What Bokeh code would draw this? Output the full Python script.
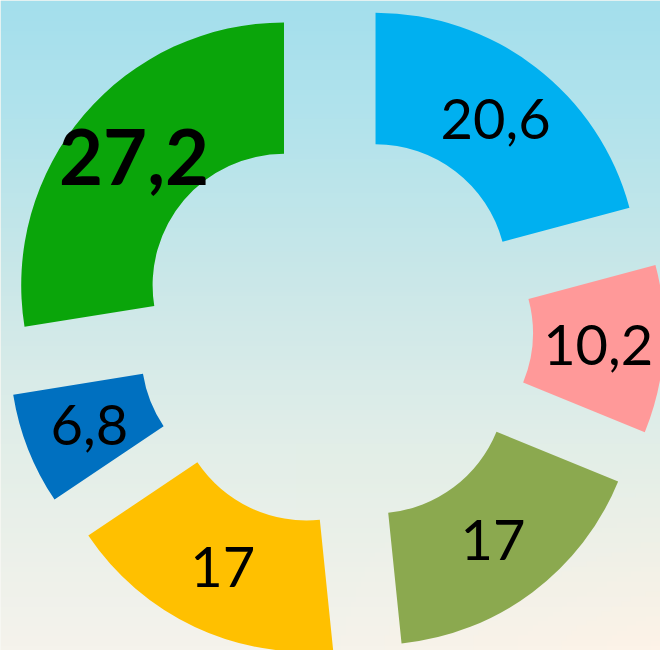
import numpy as np
from bokeh.plotting import figure
from bokeh.models import ColumnDataSource, Range1d
from bokeh.core.properties import value
from bokeh.embed import file_html
from bokeh.resources import INLINE

# ---- data ----
categories = ["A", "B", "C", "D", "E", "F"]
values = [20.6, 10.2, 17, 17, 6.8, 27.2]
labels = ["20,6", "10,2", "17", "17", "6,8", "27,2"]
colors = ["#00B0F0", "#FF9999", "#8BA94F", "#FFC000", "#0070C0", "#0AA50A"]
bold = [False, False, False, False, False, True]

# ---- geometry (style) ----
CX, CY = 338.4, -332.1
R_IN, R_OUT = 133, 266
EXPLODE = 67.6

total = sum(values)
cum = np.concatenate([[0], np.cumsum(values)]) / total * 2 * np.pi  # clockwise from top
phi0, phi1 = cum[:-1], cum[1:]
mid = (phi0 + phi1) / 2
cx = CX + EXPLODE * np.sin(mid)
cy = CY + EXPLODE * np.cos(mid)
start = np.pi / 2 - phi1
end = np.pi / 2 - phi0
rm = (R_IN + R_OUT) / 2
lx = cx + rm * np.sin(mid)
ly = cy + rm * np.cos(mid)

src = ColumnDataSource(dict(cat=categories, cx=cx, cy=cy, start=start, end=end,
                            color=colors, lx=lx, ly=ly, label=labels))

p = figure(width=660, height=650, x_range=Range1d(0, 668), y_range=Range1d(-658, 0),
           output_backend="svg", toolbar_location=None, min_border=0)
p.axis.visible = False
p.grid.visible = False
p.outline_line_color = None
p.background_fill_color = "#f4f3ec"
p.border_fill_color = "#f4f3ec"

# background gradient (decoration)
H, W = 132, 134
ys = np.linspace(658, 0, H)  # row 0 at bottom
xs = np.linspace(0, 668, W)
stops_y = [0, 120, 300, 450, 658]
stops_c = np.array([[164, 223, 236], [178, 227, 236], [205, 232, 232], [226, 238, 232], [245, 243, 236]])
img = np.zeros((H, W), dtype=np.uint32)
view = img.view(dtype=np.uint8).reshape((H, W, 4))
for ch in range(3):
    col = np.interp(ys, stops_y, stops_c[:, ch])
    view[:, :, ch] = np.clip(col[:, None] + 0 * xs[None, :], 0, 255).astype(np.uint8)
warm = np.clip((ys[:, None] - 450) / 200, 0, 1) * np.clip((xs[None, :] - 300) / 360, 0, 1)
view[:, :, 0] = np.clip(view[:, :, 0] + 8 * warm, 0, 255).astype(np.uint8)
view[:, :, 2] = np.clip(view[:, :, 2] - 4 * warm, 0, 255).astype(np.uint8)
view[:, :, 3] = 255
p.image_rgba(image=[img], x=0, y=-658, dw=668, dh=658)

p.annular_wedge(x="cx", y="cy", inner_radius=R_IN, outer_radius=R_OUT,
                start_angle="start", end_angle="end", fill_color="color",
                line_color=None, source=src)

reg = ColumnDataSource(dict(x=[lx[i] for i in range(6) if not bold[i]],
                            y=[ly[i] for i in range(6) if not bold[i]],
                            t=[labels[i] for i in range(6) if not bold[i]]))
bld = ColumnDataSource(dict(x=[lx[i] for i in range(6) if bold[i]],
                            y=[ly[i] for i in range(6) if bold[i]],
                            t=[labels[i] for i in range(6) if bold[i]]))
p.text(x="x", y="y", text="t", source=reg, text_align="center", text_baseline="middle",
       text_font=value("Lato"), text_font_size="56px", text_color="#000000")
p.text(x="x", y="y", text="t", source=bld, text_align="center", text_baseline="middle",
       text_font=value("Lato"), text_font_size="76px", text_font_style="bold",
       text_color="#000000")

open("out.html", "w").write(file_html(p, INLINE))
